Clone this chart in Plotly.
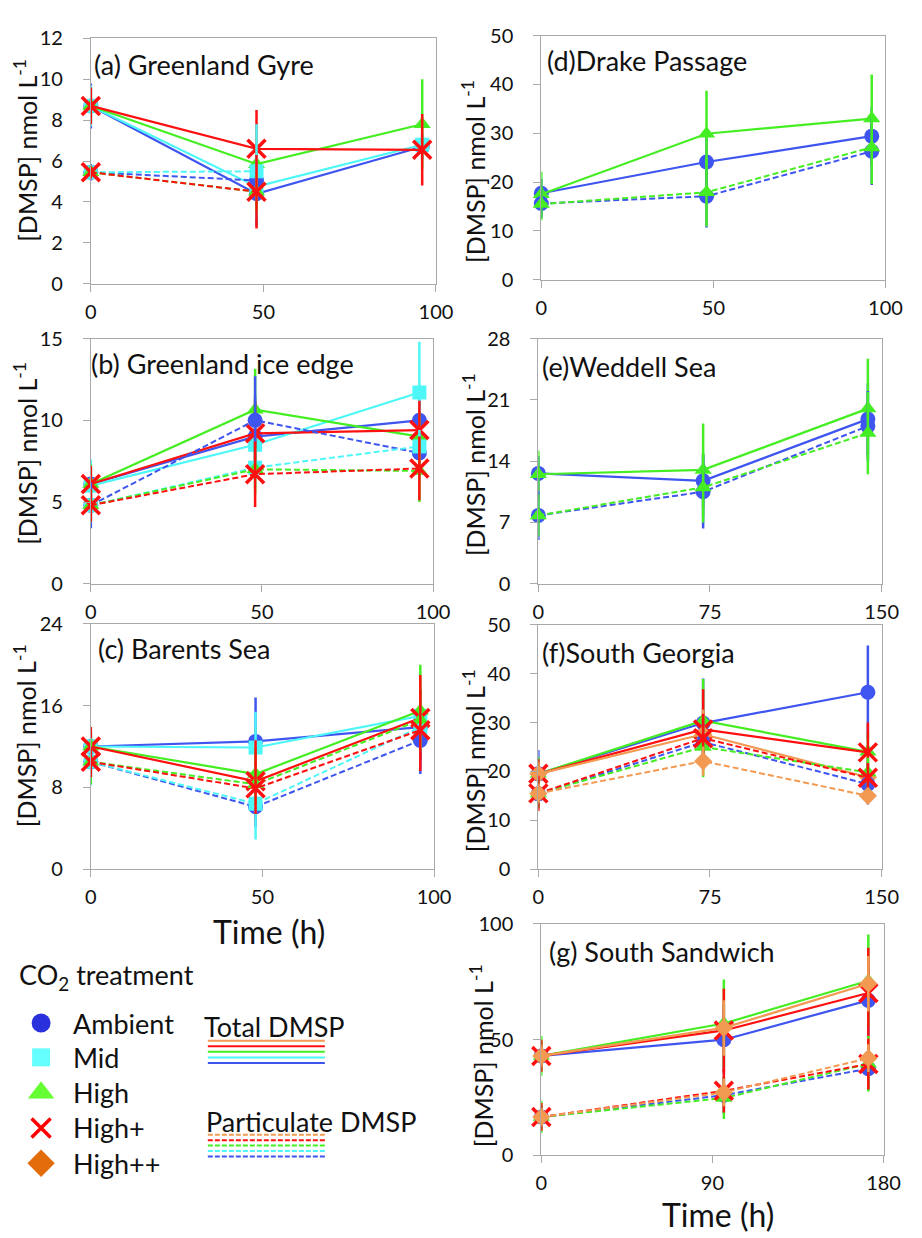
import plotly.graph_objects as go

W, H = 922, 1238
FONT = "Lato, 'Noto Sans', sans-serif"
INK = "#111111"
FRAME = "#A9A9A9"

TREATMENTS = ["Ambient", "Mid", "High", "High+", "High++"]
COLORS = {"Ambient": "#3F55F0", "Mid": "#4DF7F7", "High": "#44EE22",
          "High+": "#FF1010", "High++": "#F29A52"}
LEGEND_COLORS = {"Ambient": "#2B30DD", "Mid": "#66FFFF", "High": "#66FF33",
                 "High+": "#FF0000", "High++": "#E36C0A"}
SYMBOLS = {"Ambient": "circle", "Mid": "square", "High": "triangle-up",
           "High+": "x-thin", "High++": "diamond"}

# ---- (a) Greenland Gyre ----
a_time = [0, 48, 96]
a_total = {"Ambient": [8.7, 4.4, 6.7], "Mid": [8.7, 4.75, 6.8],
           "High": [8.7, 5.85, 7.8], "High+": [8.7, 6.6, 6.55]}
a_total_err = {"Ambient": [1.1, 1.6, 0.6], "Mid": [1.0, 1.2, 0.6],
               "High": [0.8, 1.0, 2.2], "High+": [0.9, 1.9, 1.75]}
a_part = {"Ambient": [5.45, 5.05, None], "Mid": [5.45, 5.5, None],
          "High": [5.45, 4.5, None], "High+": [5.45, 4.5, None]}
a_part_err = {"Ambient": [0.4, 1.2, None], "Mid": [0.3, 2.3, None],
              "High": [0.3, 1.0, None], "High+": [0.3, 1.8, None]}

# ---- (b) Greenland ice edge ----
b_time = [0, 48, 96]
b_total = {"Ambient": [6.1, 9.0, 10.0], "Mid": [6.0, 8.5, 11.7],
           "High": [6.1, 10.65, 9.0], "High+": [6.1, 9.2, 9.4]}
b_total_err = {"Ambient": [1.0, 2.5, 1.5], "Mid": [1.6, 2.0, 3.1],
               "High": [1.2, 2.5, 1.5], "High+": [1.1, 2.0, 1.8]}
b_part = {"Ambient": [4.8, 10.0, 8.0], "Mid": [4.8, 7.1, 8.4],
          "High": [4.8, 7.0, 6.9], "High+": [4.8, 6.7, 7.05]}
b_part_err = {"Ambient": [1.4, 2.7, 1.2], "Mid": [1.0, 1.2, 1.0],
              "High": [1.0, 1.5, 1.9], "High+": [1.0, 2.0, 1.95]}

# ---- (c) Barents Sea ----
c_time = [0, 48, 96]
c_total = {"Ambient": [12.0, 12.5, 13.9], "Mid": [12.0, 11.9, 15.0],
           "High": [12.0, 9.3, 15.5], "High+": [12.0, 8.6, 14.8]}
c_total_err = {"Ambient": [1.2, 4.3, 2.0], "Mid": [1.5, 3.5, 2.5],
               "High": [1.5, 2.5, 4.5], "High+": [1.9, 4.0, 4.2]}
c_part = {"Ambient": [10.5, 6.1, 12.6], "Mid": [10.5, 6.4, 13.9],
          "High": [10.5, 8.3, 14.6], "High+": [10.5, 7.9, 13.6]}
c_part_err = {"Ambient": [1.5, 2.0, 3.3], "Mid": [2.3, 3.5, 2.5],
              "High": [2.2, 2.0, 3.0], "High+": [1.5, 2.5, 4.0]}

# ---- (d) Drake Passage ----
d_time = [0, 48, 96]
d_total = {"Ambient": [17.7, 24.1, 29.4], "High": [17.5, 29.9, 33.0]}
d_total_err = {"Ambient": [3.0, 6.0, 6.0], "High": [4.6, 8.8, 9.0]}
d_part = {"Ambient": [15.6, 17.1, 26.3], "High": [15.5, 17.9, 27.1]}
d_part_err = {"Ambient": [3.0, 6.4, 6.9], "High": [3.3, 7.0, 7.5]}

# ---- (e) Weddell Sea ----
e_time = [0, 72, 144]
e_total = {"Ambient": [12.6, 11.75, 18.8], "High": [12.5, 13.0, 20.0]}
e_total_err = {"Ambient": [2.0, 3.0, 4.1], "High": [2.7, 5.3, 5.7]}
e_part = {"Ambient": [7.8, 10.5, 18.0], "High": [7.8, 11.0, 17.2]}
e_part_err = {"Ambient": [2.8, 4.2, 4.0], "High": [2.4, 4.0, 4.7]}

# ---- (f) South Georgia ----
f_time = [0, 72, 144]
f_total = {"Ambient": [19.5, 29.9, 36.2], "High": [19.5, 30.4, 24.0],
           "High+": [19.5, 28.6, 23.9], "High++": [19.5, 27.6, 18.8]}
f_total_err = {"Ambient": [4.9, 9.1, 9.6], "High": [3.5, 8.5, 4.0],
               "High+": [3.0, 8.2, 6.1], "High++": [2.5, 5.0, 3.0]}
f_part = {"Ambient": [15.4, 26.0, 17.4], "High": [15.5, 25.0, 19.8],
          "High+": [15.5, 26.8, 18.7], "High++": [15.5, 22.1, 15.0]}
f_part_err = {"Ambient": [3.0, 5.0, 4.2], "High": [3.0, 6.2, 3.0],
              "High+": [3.6, 5.0, 3.0], "High++": [2.0, 3.0, 1.5]}

# ---- (g) South Sandwich ----
g_time = [0, 96, 172]
g_total = {"Ambient": [43.0, 50.0, 67.0], "High": [43.0, 57.0, 75.5],
           "High+": [43.0, 54.0, 70.2], "High++": [43.0, 55.1, 74.2]}
g_total_err = {"Ambient": [6.0, 15.0, 15.0], "High": [8.6, 19.0, 20.0],
               "High+": [7.0, 18.0, 19.5], "High++": [5.0, 12.0, 12.0]}
g_part = {"Ambient": [16.6, 26.0, 37.5], "High": [16.6, 24.8, 39.6],
          "High+": [16.6, 27.9, 39.5], "High++": [16.6, 27.2, 42.0]}
g_part_err = {"Ambient": [5.0, 8.0, 9.2], "High": [7.0, 9.1, 12.0],
              "High+": [6.0, 9.4, 11.0], "High++": [4.0, 6.0, 6.0]}

PANELS = [
    dict(title="(a) Greenland Gyre", time=a_time, total=a_total, total_err=a_total_err,
         part=a_part, part_err=a_part_err, xmax=100, ymax=12, ydtick=2),
    dict(title="(b) Greenland ice edge", time=b_time, total=b_total, total_err=b_total_err,
         part=b_part, part_err=b_part_err, xmax=100, ymax=15, ydtick=5),
    dict(title="(c) Barents Sea", time=c_time, total=c_total, total_err=c_total_err,
         part=c_part, part_err=c_part_err, xmax=100, ymax=24, ydtick=8),
    dict(title="(d)Drake Passage", time=d_time, total=d_total, total_err=d_total_err,
         part=d_part, part_err=d_part_err, xmax=100, ymax=50, ydtick=10),
    dict(title="(e)Weddell Sea", time=e_time, total=e_total, total_err=e_total_err,
         part=e_part, part_err=e_part_err, xmax=150, ymax=28, ydtick=7),
    dict(title="(f)South Georgia", time=f_time, total=f_total, total_err=f_total_err,
         part=f_part, part_err=f_part_err, xmax=150, ymax=50, ydtick=10),
    dict(title="(g) South Sandwich", time=g_time, total=g_total, total_err=g_total_err,
         part=g_part, part_err=g_part_err, xmax=180, ymax=100, ydtick=50),
]

# plot-area boxes in pixels: left, top, right, bottom
BOXES = [(87, 26, 441, 276), (87, 332, 438, 582), (87, 623, 439, 873),
         (549, 23, 902, 272), (546, 332, 898, 582), (546, 624, 898, 873),
         (549, 929, 900, 1165)]
TITLE_XY = [(88, 53), (85, 357), (92, 648), (553, 48), (548, 360), (548, 652), (555, 957)]
# centre of each vertical axis title, in pixels
YTITLE_XY = [(20, 140), (20, 449), (20, 737), (480, 162), (480, 461), (480, 763), (488, 1063)]

MARKER_SIZE = {"circle": 15, "square": 14, "triangle-up": 15, "x-thin": 18, "diamond": 14}


def px(x):
    return x / W


def py(y):
    return 1 - y / H


def marker_for(t, color, sizes=MARKER_SIZE):
    sym = SYMBOLS[t]
    m = dict(symbol=sym, size=sizes[sym], color=color)
    if sym == "x-thin":
        m["line"] = dict(color=color, width=3.5)
    else:
        m["line"] = dict(width=0)
    return m


fig = go.Figure()
layout = dict()
annotations = []

for i, (p, box) in enumerate(zip(PANELS, BOXES), start=1):
    xa = "x" if i == 1 else f"x{i}"
    ya = "y" if i == 1 else f"y{i}"
    for kind, dash, width in (("total", "solid", 2.2), ("part", "6px,3px", 2.0)):
        vals = p[kind]
        errs = p[kind + "_err"]
        for t in TREATMENTS:
            if t not in vals:
                continue
            c = COLORS[t]
            fig.add_trace(go.Scatter(
                x=p["time"], y=vals[t], xaxis=xa, yaxis=ya, mode="lines+markers",
                line=dict(color=c, width=width, dash=dash),
                marker=marker_for(t, c),
                error_y=dict(type="data", array=errs[t], visible=True,
                             color=c, thickness=2.5, width=0),
                cliponaxis=False, showlegend=False, hoverinfo="skip",
            ))
    l, tp, r, b = box
    xmax, ymax = p["xmax"], p["ymax"]
    axis_common = dict(showline=True, mirror=True, linecolor=FRAME, linewidth=1,
                       ticks="outside", ticklen=7, tickcolor=FRAME, tickwidth=1,
                       showgrid=False, zeroline=False,
                       tickfont=dict(family=FONT, size=20, color=INK))
    layout["xaxis" if i == 1 else f"xaxis{i}"] = dict(
        domain=[px(l), px(r)], range=[0, xmax], anchor=ya,
        tickmode="array", tickvals=[0, xmax / 2, xmax],
        ticktext=[f"{v:g}" for v in (0, xmax / 2, xmax)],
        ticklabelstandoff=3, **axis_common)
    layout["yaxis" if i == 1 else f"yaxis{i}"] = dict(
        domain=[py(b), py(tp)], range=[0, ymax], anchor=xa,
        tickmode="linear", tick0=0, dtick=p["ydtick"],
        ticklabelstandoff=16, **axis_common)
    tx, ty = TITLE_XY[i - 1]
    annotations.append(dict(text=p["title"], x=px(tx), y=py(ty), xref="paper", yref="paper",
                            xanchor="left", yanchor="middle", showarrow=False,
                            font=dict(family=FONT, size=27, color=INK)))
    yx, yy = YTITLE_XY[i - 1]
    annotations.append(dict(text="[DMSP] nmol L<sup>-1</sup>", x=px(yx), y=py(yy),
                            xref="paper", yref="paper",
                            xanchor="center", yanchor="middle", textangle=-90,
                            showarrow=False, font=dict(family=FONT, size=25, color=INK)))

# x-axis titles
for cx, cy in ((270, 937), (730, 1225)):
    annotations.append(dict(text="Time (h)", x=px(cx), y=py(cy), xref="paper", yref="paper",
                            xanchor="center", yanchor="middle", showarrow=False,
                            font=dict(family=FONT, size=32, color=INK)))

# ---- key for treatments and DMSP fractions ----
KEY_X = 36
KEY_ROWS = [1030, 1065, 1101, 1137, 1173]
KEY_SIZES = {"circle": 19, "square": 18, "triangle-up": 23, "x-thin": 19, "diamond": 21}
for t, ky in zip(TREATMENTS, KEY_ROWS):
    fig.add_trace(go.Scatter(
        x=[KEY_X], y=[ky], xaxis="x8", yaxis="y8", mode="markers",
        marker=marker_for(t, LEGEND_COLORS[t], sizes=KEY_SIZES),
        cliponaxis=False, showlegend=False, hoverinfo="skip"))
    annotations.append(dict(text=t, x=px(67), y=py(ky), xref="paper", yref="paper",
                            xanchor="left", yanchor="middle", showarrow=False,
                            font=dict(family=FONT, size=27, color=INK)))
layout["xaxis8"] = dict(domain=[0, 1], range=[0, W], visible=False, fixedrange=True)
layout["yaxis8"] = dict(domain=[0, 1], range=[H, 0], visible=False, fixedrange=True)

annotations.append(dict(text="CO<sub>2</sub> treatment", x=px(11), y=py(983), xref="paper",
                        yref="paper", xanchor="left", yanchor="middle", showarrow=False,
                        font=dict(family=FONT, size=27, color=INK)))
annotations.append(dict(text="Total DMSP", x=px(201), y=py(1034), xref="paper", yref="paper",
                        xanchor="left", yanchor="middle", showarrow=False,
                        font=dict(family=FONT, size=27, color=INK)))
annotations.append(dict(text="Particulate DMSP", x=px(203), y=py(1130), xref="paper",
                        yref="paper", xanchor="left", yanchor="middle", showarrow=False,
                        font=dict(family=FONT, size=27, color=INK)))

shapes = []
KEY_ORDER = ["High++", "High+", "High", "Mid", "Ambient"]
for j, t in enumerate(KEY_ORDER):
    ys = 1048 + j * 5.7
    shapes.append(dict(type="line", xref="paper", yref="paper", x0=px(207), x1=px(327),
                       y0=py(ys), y1=py(ys), line=dict(color=COLORS[t], width=2)))
    yd = 1144 + j * 5.5
    shapes.append(dict(type="line", xref="paper", yref="paper", x0=px(207), x1=px(328),
                       y0=py(yd), y1=py(yd), line=dict(color=COLORS[t], width=2, dash="5px,2px")))

fig.update_layout(
    width=W, height=H, margin=dict(l=0, r=0, t=0, b=0),
    paper_bgcolor="white", plot_bgcolor="rgba(0,0,0,0)",
    font=dict(family=FONT, color=INK),
    annotations=annotations, shapes=shapes, showlegend=False,
    **layout,
)

fig.write_html("out.html")
